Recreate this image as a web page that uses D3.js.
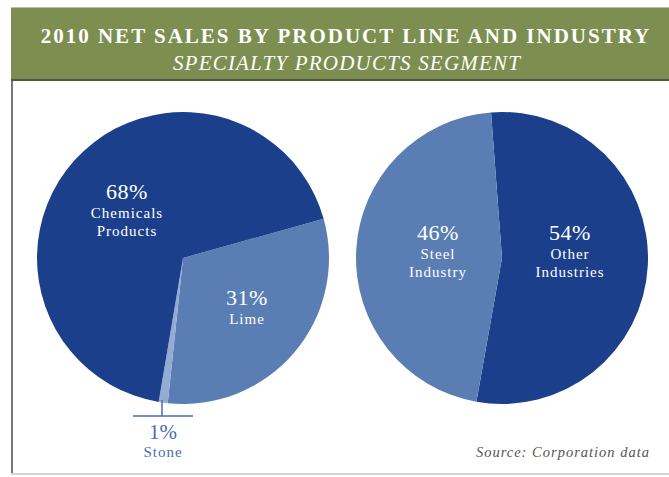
<!DOCTYPE html>
<html>
<head>
<meta charset="utf-8">
<style>
  body { margin: 0; background: #fff; }
  svg { display: block; }
  .pct { font-family: "Liberation Serif", "DejaVu Serif", serif; font-size: 22px; fill: #fff; letter-spacing: 0.5px; }
  .lbl { font-family: "Liberation Serif", "DejaVu Serif", serif; font-size: 15px; fill: #fff; letter-spacing: 1px; }
</style>
<script src="https://cdn.jsdelivr.net/npm/d3@7"></script>
</head>
<body>
<div id="chart"></div>
<script>
// product line (left pie)
var productNames = ['Lime', 'Stone', 'Chemicals Products'];
var productValues = [31, 1, 68];
// industry (right pie)
var industryNames = ['Other Industries', 'Steel Industry'];
var industryValues = [54, 46];

var width = 669, height = 477;
var svg = d3.select('#chart').append('svg')
  .attr('width', width).attr('height', height);

// frame
svg.append('line').attr('x1', 12).attr('x2', 12).attr('y1', 8).attr('y2', 474)
  .attr('stroke', '#777').attr('stroke-width', 2);
svg.append('line').attr('x1', 11).attr('x2', 669).attr('y1', 474).attr('y2', 474)
  .attr('stroke', '#d4d4d4').attr('stroke-width', 2);
svg.append('line').attr('x1', 11).attr('x2', 669).attr('y1', 7.5).attr('y2', 7.5)
  .attr('stroke', '#bbb').attr('stroke-width', 1);

// header band
svg.append('rect').attr('x', 11).attr('y', 8).attr('width', 658).attr('height', 72)
  .attr('fill', '#7c8f51');
svg.append('rect').attr('x', 11).attr('y', 79).attr('width', 658).attr('height', 2)
  .attr('fill', '#4d5740');

svg.append('text').attr('x', 346).attr('y', 43)
  .attr('text-anchor', 'middle')
  .style('font-family', '"Liberation Serif", serif').style('font-weight', 'bold')
  .style('font-size', '21px').style('letter-spacing', '2px').attr('fill', '#fff')
  .text('2010 NET SALES BY PRODUCT LINE AND INDUSTRY');
svg.append('text').attr('x', 347).attr('y', 70)
  .attr('text-anchor', 'middle')
  .style('font-family', '"Liberation Serif", serif').style('font-style', 'italic')
  .style('font-size', '21px').style('letter-spacing', '1.2px').attr('fill', '#fff')
  .text('SPECIALTY PRODUCTS SEGMENT');

var radius = 146;
var deg = Math.PI / 180;

function drawPie(cx, cy, names, values, colors, start) {
  var pie = d3.pie().sort(null)
    .startAngle(start * deg).endAngle(start * deg + 2 * Math.PI);
  var arc = d3.arc().innerRadius(0).outerRadius(radius);
  var g = svg.append('g').attr('transform', 'translate(' + cx + ',' + cy + ')');
  g.selectAll('path').data(pie(values)).enter().append('path')
    .attr('d', arc)
    .attr('fill', function(d, i) { return colors[i]; });
  return g;
}

var left = drawPie(183, 258, productNames, productValues, ['#5a7eb3', '#94abd2', '#1c3f8b'], 74.4);
var right = drawPie(502, 258, industryNames, industryValues, ['#1c3f8b', '#5a7eb3'], -4.3);

function label(g, x, y, pct, lines) {
  var t = g.append('g').attr('transform', 'translate(' + x + ',' + y + ')');
  t.append('text').attr('class', 'pct').attr('text-anchor', 'middle').attr('y', 0).text(pct + '%');
  lines.forEach(function(l, i) {
    t.append('text').attr('class', 'lbl').attr('text-anchor', 'middle')
      .attr('y', 19 + i * 18).text(l);
  });
}

label(left, 127 - 183, 199 - 258, productValues[2], ['Chemicals', 'Products']);
label(left, 247 - 183, 305 - 258, productValues[0], ['Lime']);
label(right, 438 - 502, 240 - 258, industryValues[1], ['Steel', 'Industry']);
label(right, 570 - 502, 240 - 258, industryValues[0], ['Other', 'Industries']);

// stone callout
var stoneColor = '#4a6db0';
svg.append('line').attr('x1', 162).attr('x2', 162).attr('y1', 400).attr('y2', 416)
  .attr('stroke', stoneColor).attr('stroke-width', 1.5);
svg.append('line').attr('x1', 133).attr('x2', 193).attr('y1', 416).attr('y2', 416)
  .attr('stroke', stoneColor).attr('stroke-width', 1.5);
svg.append('text').attr('x', 163).attr('y', 439).attr('text-anchor', 'middle')
  .style('font-family', '"Liberation Serif", serif').style('font-size', '21px')
  .attr('fill', stoneColor).text(productValues[1] + '%');
svg.append('text').attr('x', 163).attr('y', 457).attr('text-anchor', 'middle')
  .style('font-family', '"Liberation Serif", serif').style('font-size', '15px')
  .style('letter-spacing', '1px')
  .attr('fill', stoneColor).text('Stone');

svg.append('text').attr('x', 650).attr('y', 457).attr('text-anchor', 'end')
  .style('font-family', '"Liberation Serif", serif').style('font-style', 'italic')
  .style('font-size', '14.5px').style('letter-spacing', '1px').attr('fill', '#555')
  .text('Source: Corporation data');
</script>
</body>
</html>
